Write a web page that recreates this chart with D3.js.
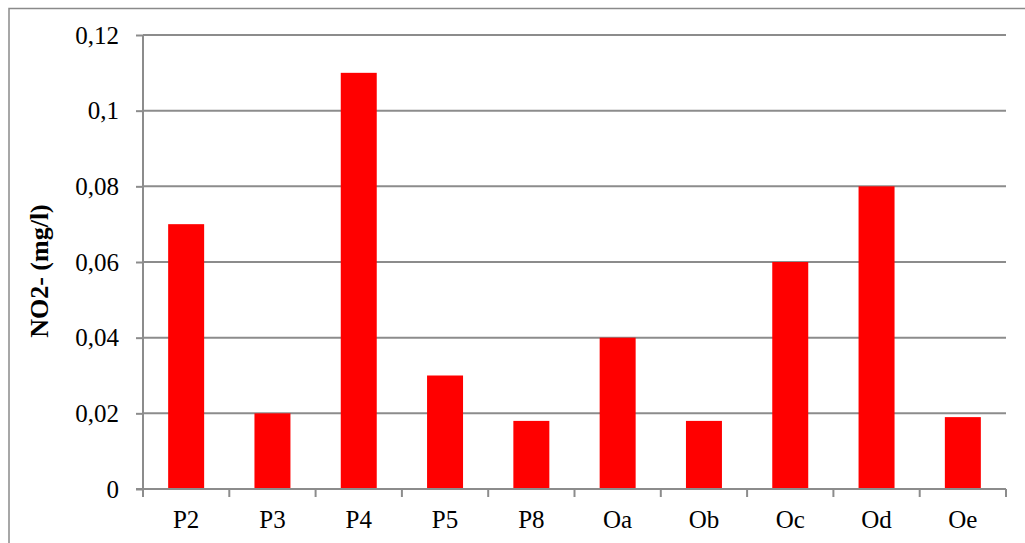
<!DOCTYPE html>
<html><head><meta charset="utf-8">
<script src="https://cdn.jsdelivr.net/npm/d3@7"></script>
<style>body{margin:0;background:#fff}svg{display:block}
text{font-family:"Liberation Serif","Times New Roman",serif;fill:#000}</style>
</head><body>
<svg id="c" width="1025" height="543"></svg>
<script>
const categories = ["P2","P3","P4","P5","P8","Oa","Ob","Oc","Od","Oe"];
const values = [0.07,0.02,0.11,0.03,0.018,0.04,0.018,0.06,0.08,0.019];
const yTicks = [0,0.02,0.04,0.06,0.08,0.1,0.12];
const yTitle = "NO2- (mg/l)";

const svg = d3.select("#c");
const m = {l:143, r:1006, t:35, b:489};
const x = d3.scaleBand().domain(categories).range([m.l,m.r]).paddingInner(0.583).paddingOuter(0.2915);
const xTickScale = d3.scaleBand().domain(categories).range([m.l,m.r]);
const y = d3.scaleLinear().domain([0,0.12]).range([m.b,m.t]);
const f = v => String(v).replace(".", ",");

// outer border
svg.append("rect").attr("x",9).attr("y",8.5).attr("width",1030).attr("height",560)
  .attr("fill","none").attr("stroke","#8a8a8a").attr("stroke-width",1.5);

// gridlines
svg.append("g").selectAll("line").data(yTicks.filter(d=>d>0)).join("line")
  .attr("x1",m.l).attr("x2",m.r).attr("y1",d=>y(d)).attr("y2",d=>y(d))
  .attr("stroke","#8c8c8c").attr("stroke-width",2);

// bars
svg.append("g").selectAll("rect").data(values).join("rect")
  .attr("x",(d,i)=>x(categories[i])).attr("width",x.bandwidth())
  .attr("y",d=>y(d)).attr("height",d=>m.b+1-y(d))
  .attr("fill","#ff0000");

// y axis
const yAxis = d3.axisLeft(y).tickValues(yTicks).tickFormat(f).tickSize(7).tickPadding(17);
const gy = svg.append("g").attr("transform",`translate(${m.l},0)`).call(yAxis)
  .attr("font-family",null).attr("font-size",null);
gy.select(".domain").attr("stroke","#8c8c8c").attr("stroke-width",2).attr("d",`M0,${m.t}V${m.b}`);
gy.selectAll(".tick line").attr("stroke","#8c8c8c").attr("stroke-width",2);
gy.selectAll("text").style("font-size","25px").attr("fill","#000");

// x axis
const gx = svg.append("g").attr("transform",`translate(0,${m.b})`);
gx.append("line").attr("x1",m.l-7).attr("x2",m.r).attr("y1",0).attr("y2",0).attr("stroke","#8c8c8c").attr("stroke-width",2);
gx.selectAll("line.t").data(categories.concat(["_end"])).join("line").attr("class","t")
  .attr("x1",(d,i)=> i<categories.length ? xTickScale(d) : m.r)
  .attr("x2",(d,i)=> i<categories.length ? xTickScale(d) : m.r)
  .attr("y1",0).attr("y2",8).attr("stroke","#8c8c8c").attr("stroke-width",2);
gx.selectAll("text").data(categories).join("text")
  .attr("x",d=>x(d)+x.bandwidth()/2).attr("y",39)
  .attr("text-anchor","middle").style("font-size","25px")
  .text(d=>d);

// y title
svg.append("text").attr("transform",`translate(48,271) rotate(-90)`)
  .attr("text-anchor","middle").style("font-weight","bold")
  .style("font-size","26px").text(yTitle);
</script>
</body></html>
